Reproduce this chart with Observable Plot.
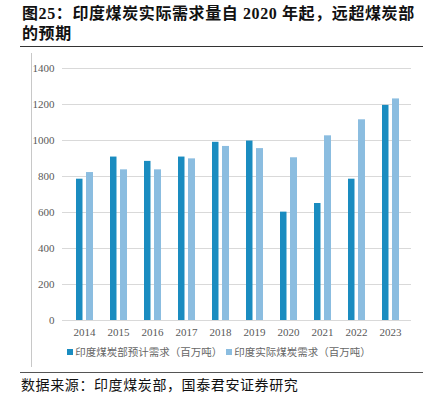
<!DOCTYPE html>
<html><head><meta charset="utf-8">
<script src="https://cdn.jsdelivr.net/npm/d3@7"></script>
<script src="https://cdn.jsdelivr.net/npm/@observablehq/plot@0.6"></script>
<style>
body{margin:0;background:#fff;width:438px;height:393px;position:relative;overflow:hidden;}
#title{position:absolute;left:22px;top:4px;width:416px;white-space:nowrap;font-family:"Liberation Serif","Noto Sans CJK SC",serif;font-weight:700;font-size:16px;line-height:20px;color:#111;letter-spacing:0.6px;}
#rule1{position:absolute;left:20px;top:46px;width:403px;height:0;border-top:1.5px solid #333;}
#frame{position:absolute;left:31px;top:53px;width:0;height:314px;border-left:1px solid #c8c8c8;}
#plot{position:absolute;left:0;top:50px;}
#legend{position:absolute;left:0;top:344px;width:438px;text-align:center;font-family:"Noto Sans CJK SC",sans-serif;font-size:10.5px;color:#666;line-height:16px;}
#legend span.sw{display:inline-block;width:6px;height:6px;margin-right:2px;vertical-align:1px;}
#legend span.item{margin:0 2px;}
#rule2{position:absolute;left:20px;top:372px;width:403px;height:0;border-top:1.5px solid #555;}
#caption{position:absolute;left:21px;top:375px;font-family:"Noto Sans CJK SC",serif;font-size:14px;line-height:18px;color:#111;letter-spacing:0.6px;}
</style></head><body>
<div id="title">图25：印度煤炭实际需求量自 2020 年起，远超煤炭部<br>的预期</div>
<div id="rule1"></div>
<div id="frame"></div>
<div id="plot"></div>
<div id="legend"></div>
<div id="rule2"></div>
<div id="caption">数据来源：印度煤炭部，国泰君安证券研究</div>
<script>
const years = ["2014","2015","2016","2017","2018","2019","2020","2021","2022","2023"];
const forecast = [785, 908, 884, 908, 990, 997, 602, 650, 785, 1195];
const actual = [822, 837, 837, 898, 967, 955, 904, 1026, 1115, 1231];
const seriesNames = ["印度煤炭部预计需求（百万吨）", "印度实际煤炭需求（百万吨）"];
const yTicks = [0, 200, 400, 600, 800, 1000, 1200, 1400];
const colors = ["#1a8cc0", "#8bbde0"];

const dataF = years.map((y, i) => ({year: y, value: forecast[i]}));
const dataA = years.map((y, i) => ({year: y, value: actual[i]}));

const chart = Plot.plot({
  width: 438,
  height: 290,
  marginTop: 18,
  marginBottom: 20,
  marginLeft: 62,
  marginRight: 27,
  style: {fontFamily: '"Liberation Serif", serif', fontSize: "11px", color: "#595959", background: "transparent"},
  x: {domain: years, padding: 0, label: null, tickSize: 0, tickPadding: 8},
  y: {domain: [0, 1400], ticks: yTicks, tickFormat: d => String(d), label: null, tickSize: 0, tickPadding: 8},
  marks: [
    Plot.ruleY(yTicks, {stroke: "#d9d9d9", strokeWidth: 1}),
    Plot.barY(dataF, {x: "year", y: "value", fill: colors[0], insetLeft: 9, insetRight: 18.5}),
    Plot.barY(dataA, {x: "year", y: "value", fill: colors[1], insetLeft: 19, insetRight: 8})
  ]
});
document.getElementById("plot").appendChild(chart);

const legend = document.getElementById("legend");
seriesNames.forEach((name, i) => {
  const item = document.createElement("span");
  item.className = "item";
  const sw = document.createElement("span");
  sw.className = "sw";
  sw.style.background = colors[i];
  item.appendChild(sw);
  item.appendChild(document.createTextNode(name));
  legend.appendChild(item);
});
</script>
</body></html>
